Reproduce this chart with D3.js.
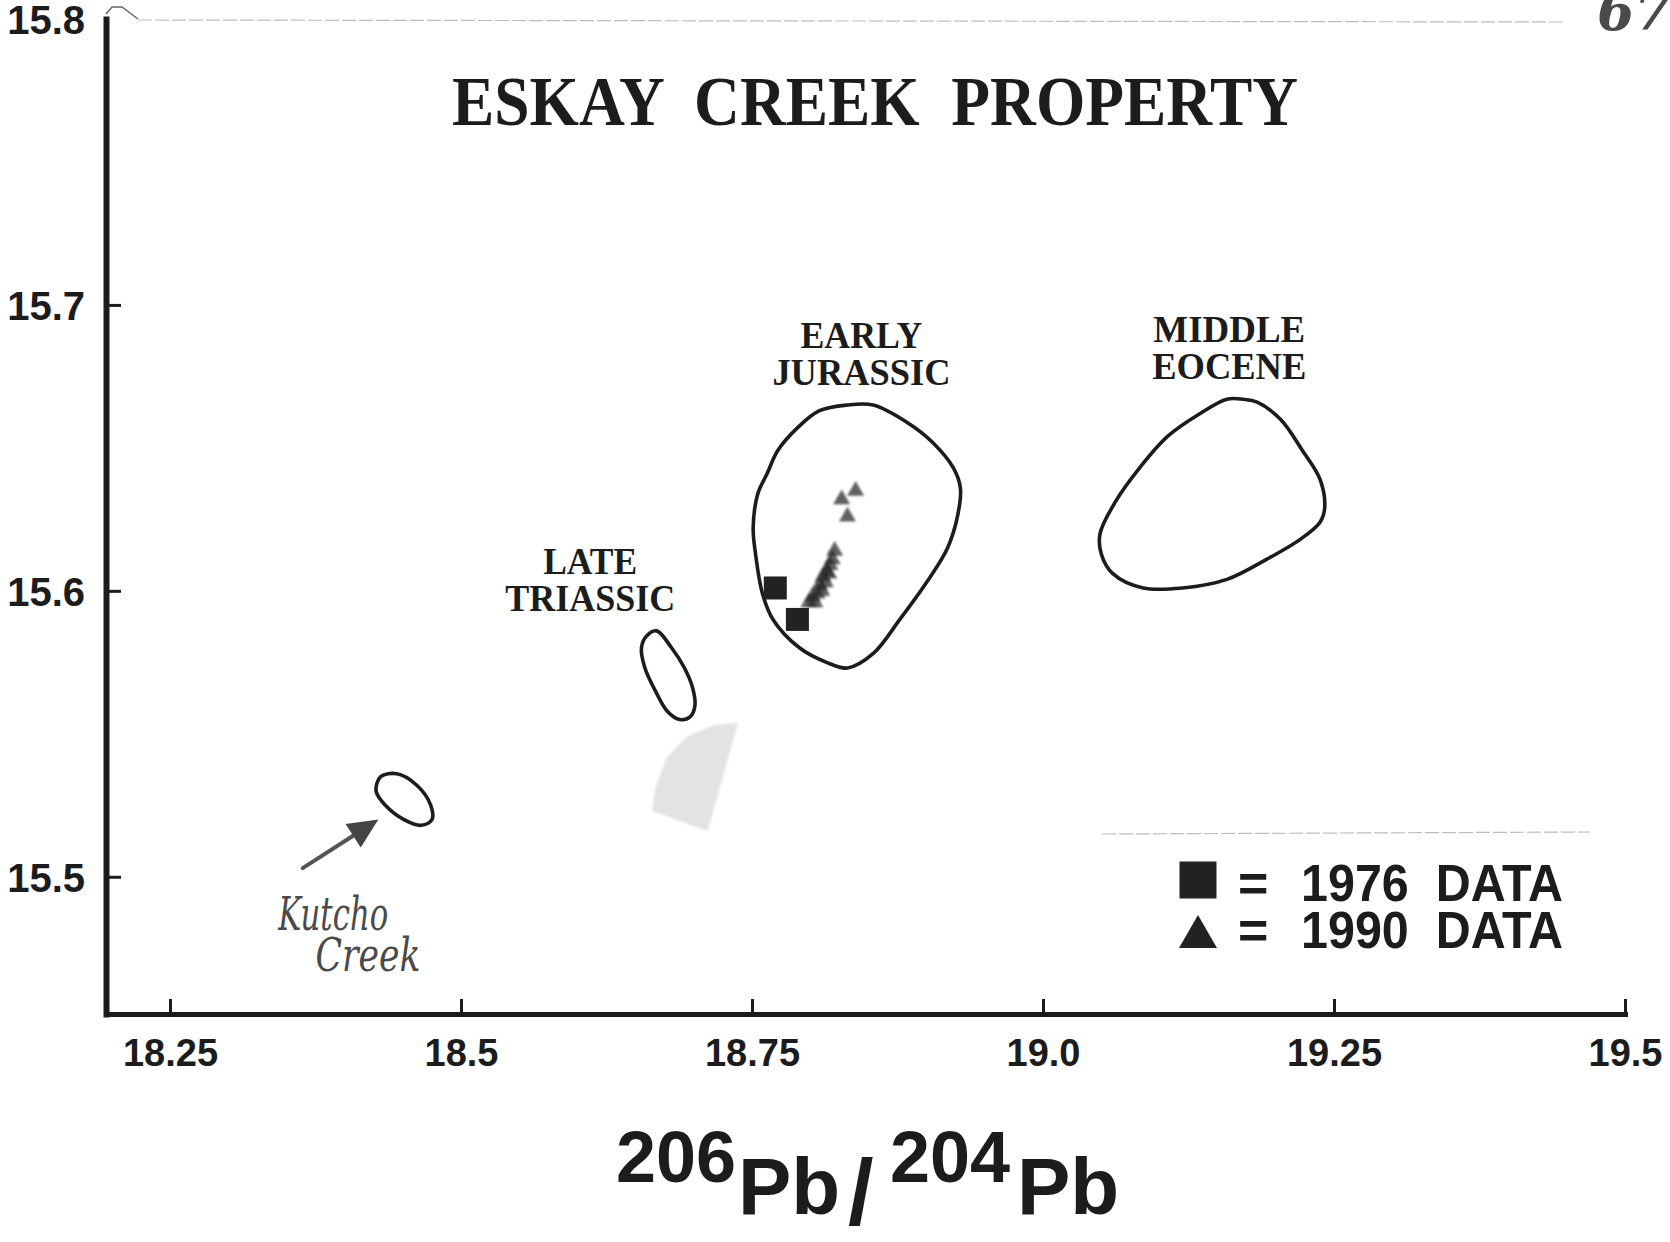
<!DOCTYPE html>
<html>
<head>
<meta charset="utf-8">
<script src="https://cdn.jsdelivr.net/npm/d3@7"></script>
<style>
  html, body { margin: 0; padding: 0; background: #fff; }
  svg { display: block; background: #fff; }
  .serif { font-family: 'Liberation Serif', 'Times New Roman', serif; font-weight: bold; fill: #1c1c1c; }
  .sans { font-family: 'Liberation Sans', Arial, sans-serif; font-weight: bold; fill: #1c1c1c; }
  .hand { font-family: 'DejaVu Serif', serif; font-style: italic; fill: #4a4a4a; }
</style>
</head>
<body>
<svg id="graph" width="1670" height="1242"></svg>
<script>
// axis ticks
const xTicks = [18.25, 18.5, 18.75, 19.0, 19.25, 19.5];
const xTickLabels = ['18.25', '18.5', '18.75', '19.0', '19.25', '19.5'];
const yTicks = [15.5, 15.6, 15.7, 15.8];
const yTickLabels = ['15.5', '15.6', '15.7', '15.8'];

// [206Pb/204Pb, 207Pb/204Pb]
const data1976 = [
  [18.770, 15.601],
  [18.789, 15.590],
];
const data1990 = [
  [18.839, 15.635],
  [18.827, 15.632],
  [18.832, 15.626],
  [18.821, 15.614],
  [18.819, 15.611],
  [18.817, 15.609],
  [18.816, 15.606],
  [18.814, 15.607],
  [18.813, 15.603],
  [18.811, 15.605],
  [18.810, 15.600],
  [18.808, 15.602],
  [18.806, 15.599],
  [18.804, 15.596],
  [18.802, 15.598],
  [18.799, 15.596],
];

// age field outlines
const earlyJurassic = [
  [18.832, 15.665], [18.854, 15.665], [18.883, 15.659], [18.905, 15.652],
  [18.923, 15.643], [18.929, 15.636], [18.927, 15.627], [18.918, 15.615],
  [18.900, 15.603], [18.877, 15.590], [18.854, 15.578], [18.832, 15.573],
  [18.814, 15.575], [18.791, 15.580], [18.768, 15.590], [18.759, 15.599],
  [18.753, 15.613], [18.751, 15.622], [18.755, 15.634], [18.763, 15.641],
  [18.772, 15.649], [18.789, 15.657], [18.808, 15.663],
];
const middleEocene = [
  [19.172, 15.667], [19.184, 15.666], [19.204, 15.660], [19.223, 15.649],
  [19.238, 15.639], [19.242, 15.629], [19.238, 15.624], [19.221, 15.618],
  [19.192, 15.611], [19.158, 15.604], [19.120, 15.601], [19.086, 15.601],
  [19.060, 15.606], [19.050, 15.613], [19.049, 15.620], [19.062, 15.631],
  [19.083, 15.643], [19.107, 15.654], [19.135, 15.662], [19.158, 15.667],
];
const lateTriassic = [
  [18.668, 15.586], [18.681, 15.580], [18.692, 15.573], [18.699, 15.566],
  [18.701, 15.560], [18.697, 15.556], [18.688, 15.555], [18.677, 15.558],
  [18.667, 15.565], [18.658, 15.573], [18.655, 15.580], [18.659, 15.584],
];
const kutchoCreek = [
  [18.445, 15.536], [18.462, 15.532], [18.474, 15.525], [18.475, 15.520],
  [18.466, 15.518], [18.451, 15.520], [18.435, 15.525], [18.427, 15.530],
  [18.431, 15.535],
];
// grey paste-over patch on the scan
const pastePatch = [
  [18.738, 15.554], [18.712, 15.516], [18.664, 15.523], [18.667, 15.531],
  [18.677, 15.542], [18.694, 15.549], [18.717, 15.553],
];

// field names and where they sit
const fieldNames = [['EARLY', 'JURASSIC'], ['MIDDLE', 'EOCENE'], ['LATE', 'TRIASSIC']];
const fieldLabelX = [18.844, 19.160, 18.611];
const fieldLabelY = [[15.685, 15.672], [15.687, 15.674], [15.606, 15.593]];

// handwritten note
const noteLines = ['Kutcho', 'Creek'];
const noteAt = [[18.343, 15.4815], [18.375, 15.467]];
const arrowFrom = [18.364, 15.503];
const arrowTo = [18.429, 15.520];

const legendLabels = ['1976  DATA', '1990  DATA'];

function setupGraph() {
  const svg = d3.select('#graph');
  const x = d3.scaleLinear().domain([18.195, 19.5]).range([106, 1625]);
  const y = d3.scaleLinear().domain([15.452, 15.8]).range([1014, 19]);
  const defs = svg.append('defs');

  defs.append('filter').attr('id', 'smear')
    .append('feGaussianBlur').attr('stdDeviation', 0.9);
  defs.append('filter').attr('id', 'soft')
    .append('feGaussianBlur').attr('stdDeviation', 1.2);

  // faint paste-up edges from the scan
  svg.append('path')
    .attr('d', 'M138,20 L1565,22 M1102,834 L1590,832')
    .attr('stroke', '#bdbdbd')
    .attr('stroke-width', 1.2)
    .attr('stroke-dasharray', '14 3')
    .attr('fill', 'none');
  svg.append('path')
    .attr('d', 'M106,14 L112,7 L122,7 L138,19')
    .attr('stroke', '#666')
    .attr('stroke-width', 1.5)
    .attr('fill', 'none');

  // title
  svg.append('text')
    .attr('class', 'serif')
    .attr('x', 452)
    .attr('y', 125)
    .attr('font-size', 70)
    .attr('textLength', 846)
    .attr('lengthAdjust', 'spacingAndGlyphs')
    .style('white-space', 'pre')
    .text('ESKAY  CREEK  PROPERTY');

  // axes
  const yAxisG = svg.append('g').attr('transform', 'translate(106,0)');
  yAxisG.call(
    d3.axisLeft(y)
      .tickValues(yTicks)
      .tickFormat((d, i) => yTickLabels[i])
      .tickSizeInner(-15)
      .tickSizeOuter(0)
      .tickPadding(21)
  );
  const xAxisG = svg.append('g').attr('transform', 'translate(0,1014)');
  xAxisG.call(
    d3.axisBottom(x)
      .tickValues(xTicks)
      .tickFormat((d, i) => xTickLabels[i])
      .tickSizeInner(-15)
      .tickSizeOuter(0)
      .tickPadding(25)
  );

  [yAxisG, xAxisG].forEach((g) => {
    g.attr('font-size', null).attr('font-family', null);
    g.select('.domain').attr('stroke', '#1c1c1c').attr('stroke-linecap', 'square');
    g.selectAll('.tick line').attr('stroke', '#1c1c1c').attr('stroke-width', 3);
    g.selectAll('.tick text').attr('class', 'sans');
  });
  yAxisG.select('.domain').attr('stroke-width', 6);
  xAxisG.select('.domain').attr('stroke-width', 5);
  yAxisG.selectAll('.tick text').attr('font-size', 40).attr('dy', '0.36em');
  xAxisG.selectAll('.tick text').attr('font-size', 38);
  yAxisG.selectAll('.tick').filter((d) => d === 15.8).select('line').remove();

  // axis title 206Pb/204Pb
  const axisTitle = svg.append('text').attr('class', 'sans');
  axisTitle.append('tspan').attr('x', 616).attr('y', 1182).attr('font-size', 72).text('206');
  axisTitle.append('tspan').attr('x', 738).attr('y', 1214).attr('font-size', 80).text('Pb');
  axisTitle.append('tspan').attr('x', 848).attr('y', 1224).attr('font-size', 92).text('/');
  axisTitle.append('tspan').attr('x', 890).attr('y', 1182).attr('font-size', 72).text('204');
  axisTitle.append('tspan').attr('x', 1017).attr('y', 1214).attr('font-size', 80).text('Pb');

  // paste patch
  svg.append('path')
    .datum(pastePatch)
    .attr('d', d3.line().x((d) => x(d[0])).y((d) => y(d[1])).curve(d3.curveLinearClosed))
    .attr('fill', '#e3e3e3')
    .attr('filter', 'url(#soft)');

  // age fields
  const outline = d3.line()
    .x((d) => x(d[0]))
    .y((d) => y(d[1]))
    .curve(d3.curveCatmullRomClosed.alpha(0.5));

  svg.selectAll('.field')
    .data([earlyJurassic, middleEocene, lateTriassic, kutchoCreek])
    .enter()
    .append('path')
    .attr('class', 'field')
    .attr('d', outline)
    .attr('fill', 'none')
    .attr('stroke', '#1c1c1c')
    .attr('stroke-width', 3.6);

  fieldNames.forEach((lines, i) => {
    lines.forEach((line, j) => {
      svg.append('text')
        .attr('class', 'serif')
        .attr('x', x(fieldLabelX[i]))
        .attr('y', y(fieldLabelY[i][j]))
        .attr('text-anchor', 'middle')
        .attr('font-size', 38)
        .attr('textLength', { EARLY: 122, JURASSIC: 178, MIDDLE: 152, EOCENE: 154, LATE: 94, TRIASSIC: 170 }[line])
        .attr('lengthAdjust', 'spacingAndGlyphs')
        .text(line);
    });
  });

  // 1990 data
  svg.append('g')
    .attr('filter', 'url(#smear)')
    .selectAll('path')
    .data(data1990)
    .enter()
    .append('path')
    .attr('transform', (d) => `translate(${x(d[0])},${y(d[1])})`)
    .attr('d', d3.symbol(d3.symbolTriangle, 125))
    .attr('fill', '#262626')
    .attr('fill-opacity', 0.72);

  // 1976 data
  svg.selectAll('.sq')
    .data(data1976)
    .enter()
    .append('path')
    .attr('class', 'sq')
    .attr('transform', (d) => `translate(${x(d[0])},${y(d[1])})`)
    .attr('d', d3.symbol(d3.symbolSquare, 23 * 23))
    .attr('fill', '#222');

  // handwritten note and arrow
  const x0 = x(arrowFrom[0]);
  const y0 = y(arrowFrom[1]);
  const x1 = x(arrowTo[0]);
  const y1 = y(arrowTo[1]);
  const ang = Math.atan2(y1 - y0, x1 - x0);
  const head = 30;
  const half = 14;
  const bx = x1 - head * Math.cos(ang);
  const by = y1 - head * Math.sin(ang);

  svg.append('line')
    .attr('x1', x0).attr('y1', y0).attr('x2', bx).attr('y2', by)
    .attr('stroke', '#555').attr('stroke-width', 4).attr('stroke-linecap', 'round');
  svg.append('path')
    .attr('d', `M${x1},${y1} L${bx - half * Math.sin(ang)},${by + half * Math.cos(ang)} L${bx + half * Math.sin(ang)},${by - half * Math.cos(ang)} Z`)
    .attr('fill', '#444');

  noteLines.forEach((line, i) => {
    svg.append('text')
      .attr('class', 'hand')
      .attr('x', x(noteAt[i][0]))
      .attr('y', y(noteAt[i][1]))
      .attr('font-size', 46)
      .attr('textLength', i === 0 ? 110 : 105)
      .attr('lengthAdjust', 'spacingAndGlyphs')
      .text(line);
  });

  // page number scribble, cut at the top edge
  svg.append('text')
    .attr('class', 'hand')
    .attr('x', 1597)
    .attr('y', 30)
    .attr('font-size', 54)
    .attr('font-weight', 'bold')
    .text('679');
}

function setupLegend() {
  const svg = d3.select('#graph');
  const legend = svg.append('g').attr('transform', 'translate(1198,0)');
  const symbols = [d3.symbol(d3.symbolSquare, 37 * 37), d3.symbol(d3.symbolTriangle, 625)];
  const rows = [880, 937];
  const baselines = [901, 948];

  legend.selectAll('path')
    .data(legendLabels)
    .enter()
    .append('path')
    .attr('transform', (d, i) => `translate(0,${rows[i]})`)
    .attr('d', (d, i) => symbols[i]())
    .attr('fill', '#222');

  legend.selectAll('.eq')
    .data(legendLabels)
    .enter()
    .append('text')
    .attr('class', 'sans eq')
    .attr('x', 40)
    .attr('y', (d, i) => baselines[i])
    .attr('font-size', 52)
    .text('=');

  legend.selectAll('.lab')
    .data(legendLabels)
    .enter()
    .append('text')
    .attr('class', 'sans lab')
    .attr('x', 103)
    .attr('y', (d, i) => baselines[i])
    .attr('font-size', 52)
    .attr('textLength', 262)
    .attr('lengthAdjust', 'spacingAndGlyphs')
    .style('white-space', 'pre')
    .text((d) => d);
}

setupGraph();
setupLegend();
</script>
</body>
</html>
